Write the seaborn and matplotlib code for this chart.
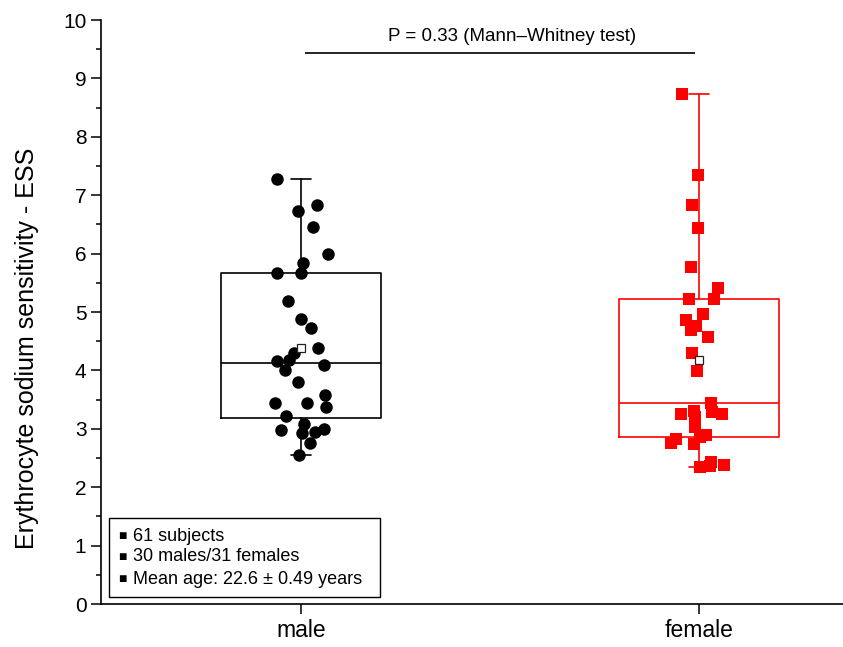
import matplotlib
matplotlib.use("Agg")
import numpy as np
import pandas as pd
import matplotlib.pyplot as plt
import seaborn as sns
from matplotlib.patches import Rectangle
from matplotlib.ticker import MultipleLocator

categories = ["male", "female"]
male_ess = [7.27, 6.84, 6.73, 6.46, 5.99, 5.84, 5.66, 5.66, 5.19, 4.88,
            4.73, 4.38, 4.30, 4.16, 4.18, 4.09, 4.01, 3.80, 3.58, 3.44,
            3.45, 3.37, 3.22, 3.09, 3.00, 2.98, 2.93, 2.95, 2.75, 2.55]
female_ess = [8.74, 7.35, 6.83, 6.44, 5.77, 5.41, 5.23, 5.22, 4.97, 4.86,
              4.76, 4.69, 4.58, 4.30, 3.99, 3.45, 3.30, 3.25, 3.26, 3.28,
              3.21, 3.03, 2.90, 2.86, 2.74, 2.76, 2.82, 2.44, 2.35, 2.36, 2.38]
legend_lines = ["61 subjects", "30 males/31 females", "Mean age: 22.6 \u00b1 0.49 years"]
p_text = "P = 0.33 (Mann\u2013Whitney test)"
y_label = "Erythrocyte sodium sensitivity - ESS"
colors = {"male": "black", "female": "#ff0000"}
markers = {"male": "o", "female": "s"}
sizes = {"male": 9.0, "female": 8.2}

sns.set_theme(style="ticks")
plt.rcParams["font.family"] = ["Liberation Sans", "DejaVu Sans"]
plt.rcParams["text.color"] = "black"
plt.rcParams["axes.labelcolor"] = "black"
plt.rcParams["xtick.color"] = "black"
plt.rcParams["ytick.color"] = "black"

df = pd.DataFrame({
    "sex": ["male"] * len(male_ess) + ["female"] * len(female_ess),
    "ess": male_ess + female_ess,
})

fig = plt.figure(figsize=(8.43, 6.47), dpi=100)
ax = fig.add_axes([101 / 843, 43 / 647, 742 / 843, 584 / 647])

# boxes (Origin-style quartiles, whiskers to min/max)
for i, (cat, vals) in enumerate(zip(categories, [male_ess, female_ess])):
    a = np.asarray(vals)
    q1, med, q3 = np.percentile(a, [25, 50, 75], method="weibull")
    st = dict(med=med, q1=q1, q3=q3, whislo=a.min(), whishi=a.max(),
              mean=a.mean(), fliers=[], label=cat)
    c = colors[cat]
    lp = dict(color=c, lw=1.2)
    out = ax.bxp([st], positions=[i], widths=0.4, capwidths=0.05,
                 showmeans=True, showfliers=False, manage_ticks=False,
                 boxprops=lp, whiskerprops=lp, capprops=lp, medianprops=lp,
                 meanprops=dict(marker="s", markerfacecolor="white",
                                markeredgecolor="#222222", markersize=5.5,
                                markeredgewidth=0.9))
    for m in out["means"]:
        m.set_zorder(5)

np.random.seed(7)
for cat in categories:
    sns.stripplot(data=df[df["sex"] == cat], x="sex", y="ess", order=categories,
                  color=colors[cat], marker=markers[cat], size=sizes[cat],
                  jitter=0.07, linewidth=0, ax=ax, zorder=3)

ax.set_xlim(-0.5025, 1.362)
ax.set_ylim(0, 10)
ax.set_yticks(range(11))
ax.yaxis.set_minor_locator(MultipleLocator(0.5))
ax.set_xticks([0, 1])
ax.set_xticklabels(categories, fontsize=16.5)
ax.tick_params(axis="y", labelsize=15)
ax.tick_params(which="major", length=7, width=1.1, color="black", direction="out")
ax.tick_params(which="minor", length=3.5, width=1.1, color="black", direction="out")
ax.tick_params(axis="x", which="minor", length=0)
ax.set_xlabel("")
ax.set_ylabel(y_label, fontsize=18)
ax.yaxis.set_label_coords(-0.083, 0.438)
sns.despine(ax=ax)
for s in ["left", "bottom"]:
    ax.spines[s].set_linewidth(1.2)
    ax.spines[s].set_color("black")

# significance bar
ax.plot([0.01, 0.99], [9.435, 9.435], color="black", lw=1.2, solid_capstyle="butt")
ax.text(0.53, 9.71, p_text, ha="center", va="center", fontsize=13.5)

# info box
ax.add_patch(Rectangle((0.0108, 0.012), 0.365, 0.135, transform=ax.transAxes,
                       fill=False, edgecolor="black", lw=1.0, zorder=6))
for yy, line in zip([0.1164, 0.0805, 0.0428], legend_lines):
    ax.text(0.0235, yy, "\u25a0", transform=ax.transAxes, ha="left",
            va="center", fontsize=10, zorder=6)
    ax.text(0.0432, yy, line, transform=ax.transAxes, ha="left",
            va="center", fontsize=13, zorder=6)

fig.savefig("out.png", dpi=100)
